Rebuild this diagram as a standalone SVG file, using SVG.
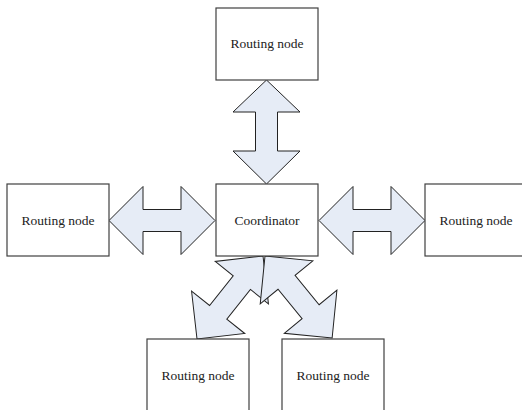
<svg xmlns="http://www.w3.org/2000/svg" xmlns:xlink="http://www.w3.org/1999/xlink" width="522" height="410" viewBox="0 0 522 410">
<style>
.box{fill:#fff;stroke:#404040;stroke-width:1.2}
.arrow{fill:#e6ecf6;stroke:#222;stroke-width:1;stroke-linejoin:miter}
text{font-family:'Liberation Serif',serif;font-size:13.5px;fill:#222;text-anchor:middle}
</style>
<defs>
<polygon id="dbl" points="0,0 34,-34 34,-11 72,-11 72,-34 106,0 72,34 72,11 34,11 34,34"/>
</defs>
<rect width="522" height="410" fill="#fff"/>
<g id="connectors">
<polygon class="arrow" points="266.5,80 300,112 277.5,112 277.5,151 300,151 266.5,184 233,151 255.5,151 255.5,112 233,112"/>
<use xlink:href="#dbl" class="arrow" transform="translate(109,220.5)"/>
<use xlink:href="#dbl" class="arrow" transform="translate(319,220.5)"/>
<use xlink:href="#dbl" class="arrow" transform="translate(263,256) rotate(128.5)"/>
<use xlink:href="#dbl" class="arrow" transform="translate(265,256) rotate(50.7)"/>
</g>
<g id="node-top">
<rect class="box" x="216" y="8" width="102" height="72"/>
<text x="267" y="48" font-family="Liberation Serif, serif">Routing node</text>
</g>
<g id="node-coordinator">
<rect class="box" x="216" y="184" width="102" height="72"/>
<text x="267" y="224.5" font-family="Liberation Serif, serif">Coordinator</text>
</g>
<g id="node-left">
<rect class="box" x="7" y="184" width="102" height="72"/>
<text x="58" y="224.5" font-family="Liberation Serif, serif">Routing node</text>
</g>
<g id="node-right">
<rect class="box" x="425" y="184" width="102" height="72"/>
<text x="476" y="224.5" font-family="Liberation Serif, serif">Routing node</text>
</g>
<g id="node-bottom-left">
<rect class="box" x="147" y="339" width="102" height="72"/>
<text x="198" y="380" font-family="Liberation Serif, serif">Routing node</text>
</g>
<g id="node-bottom-right">
<rect class="box" x="282" y="339" width="102" height="72"/>
<text x="333" y="380" font-family="Liberation Serif, serif">Routing node</text>
</g>
</svg>
